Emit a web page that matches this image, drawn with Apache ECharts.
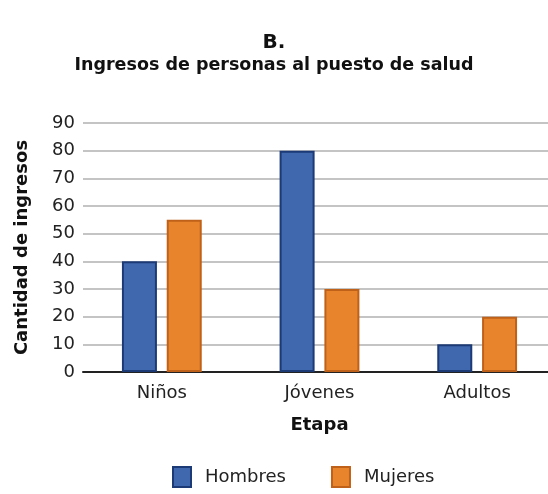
<!DOCTYPE html>
<html>
<head>
<meta charset="utf-8">
<script src="https://cdn.jsdelivr.net/npm/echarts@6/dist/echarts.min.js"></script>
<style>
  html, body { margin: 0; padding: 0; background: #fff; }
  #chart { width: 548px; height: 494px; }
</style>
</head>
<body>
<div id="chart"></div>
<script>
const categories = ['Niños', 'Jóvenes', 'Adultos'];
const hombres = [40, 80, 10];
const mujeres = [55, 30, 20];
const yTicks = { min: 0, max: 90, interval: 10 };

const font = 'DejaVu Sans';
const myChart = echarts.init(document.getElementById('chart'));

const option = {
  animation: false,
  textStyle: { fontFamily: font },
  title: [
    {
      text: 'B.',
      left: 'center',
      top: 28,
      textStyle: { fontSize: 20, fontWeight: 'bold', color: '#111', fontFamily: font }
    },
    {
      text: 'Ingresos de personas al puesto de salud',
      left: 'center',
      top: 51,
      textStyle: { fontSize: 17.5, fontWeight: 'bold', color: '#111', fontFamily: font }
    }
  ],
  legend: {
    top: 461,
    left: 167,
    icon: 'rect',
    itemWidth: 18,
    itemHeight: 20,
    itemGap: 45,
    textStyle: { fontSize: 18, color: '#222', fontFamily: font, padding: [0, 0, 0, 9] },
    data: ['Hombres', 'Mujeres']
  },
  grid: { left: 83, right: -8, top: 123, bottom: 122, outerBoundsMode: 'none' },
  xAxis: {
    type: 'category',
    data: categories,
    name: 'Etapa',
    nameLocation: 'middle',
    nameGap: 44,
    nameTextStyle: { fontSize: 18, fontWeight: 'bold', color: '#111' },
    axisLine: { lineStyle: { color: '#222', width: 2 } },
    axisTick: { show: false },
    axisLabel: { fontSize: 18, color: '#222', margin: 12 }
  },
  yAxis: {
    type: 'value',
    min: yTicks.min,
    max: yTicks.max,
    interval: yTicks.interval,
    name: 'Cantidad de ingresos',
    nameLocation: 'middle',
    nameGap: 52,
    nameTextStyle: { fontSize: 18, fontWeight: 'bold', color: '#111' },
    axisLine: { show: false },
    axisTick: { show: false },
    axisLabel: { fontSize: 18, color: '#222', margin: 8 },
    splitLine: { lineStyle: { color: '#c4c4c4', width: 2 } }
  },
  series: [
    {
      name: 'Hombres',
      type: 'bar',
      data: hombres,
      barWidth: 35,
      barGap: '28%',
      itemStyle: { color: '#3f68ae', borderColor: '#1c3a76', borderWidth: 2 }
    },
    {
      name: 'Mujeres',
      type: 'bar',
      data: mujeres,
      barWidth: 35,
      itemStyle: { color: '#e8842c', borderColor: '#bf6118', borderWidth: 2 }
    }
  ]
};

myChart.setOption(option);
</script>
</body>
</html>
